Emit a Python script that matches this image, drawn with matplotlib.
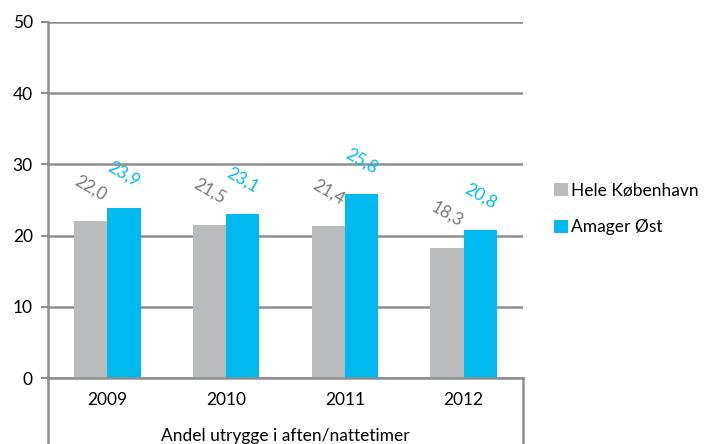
import matplotlib
matplotlib.use("Agg")
import matplotlib.pyplot as plt
import numpy as np

categories = ["2009", "2010", "2011", "2012"]
hele_kbh = [22.0, 21.5, 21.4, 18.3]
amager_ost = [23.9, 23.1, 25.8, 20.8]
series_names = ["Hele København", "Amager Øst"]
xlabel = "Andel utrygge i aften/nattetimer"
yticks = [0, 10, 20, 30, 40, 50]

plt.rcParams['font.family'] = ['Lato', 'DejaVu Sans']

grey = "#B9BBBC"
cyan = "#00B9EF"
grid_c = "#8E8E8E"

fig = plt.figure(figsize=(7.07, 4.44), dpi=100)
ax = fig.add_axes([48/707, 66/444, 475/707, 356/444])

x = np.arange(len(categories))
w = 0.28
b1 = ax.bar(x - w/2, hele_kbh, w, color=grey, label=series_names[0], zorder=3)
b2 = ax.bar(x + w/2, amager_ost, w, color=cyan, label=series_names[1], zorder=3)

for xi, v in zip(x - w/2, hele_kbh):
    ax.annotate(f"{v:.1f}".replace(".", ","), (xi, v), xytext=(0, 24),
                textcoords="offset points", ha="center", va="center",
                rotation=-30, color="#777777", fontsize=12.5)
for xi, v in zip(x + w/2, amager_ost):
    ax.annotate(f"{v:.1f}".replace(".", ","), (xi, v), xytext=(0, 24),
                textcoords="offset points", ha="center", va="center",
                rotation=-30, color=cyan, fontsize=12.5)

ax.set_xlim(-0.5, len(categories) - 0.5)
ax.set_ylim(0, 50)
ax.set_yticks(yticks)
ax.set_yticklabels([str(t) for t in yticks], fontsize=12.5)
ax.set_xticks(x)
ax.set_xticklabels(categories, fontsize=12.5)
ax.tick_params(axis='x', length=0, pad=10)
ax.tick_params(axis='y', length=5, width=1.5, color=grid_c, pad=6)
ax.yaxis.grid(True, color=grid_c, linewidth=1.8, zorder=0)
ax.set_axisbelow(True)
for s in ["top", "right", "bottom"]:
    ax.spines[s].set_visible(False)
ax.spines["left"].set_color(grid_c)
ax.spines["left"].set_linewidth(1.8)

# axis title
fig.text(285/707, 1 - 436/444, xlabel, ha="center", va="center", fontsize=12.5)

# category frame lines extending below the axis
fig.add_artist(plt.Line2D([48/707, 48/707], [0, 66/444], color=grid_c, linewidth=1.8))
fig.add_artist(plt.Line2D([523/707, 523/707], [0, 66/444], color=grid_c, linewidth=1.8))
fig.add_artist(plt.Line2D([48/707, 523/707], [66/444, 66/444], color=grid_c, linewidth=1.8))

leg = fig.legend(handles=[b1, b2], loc="center left", bbox_to_anchor=(538/707, 1 - 209/444),
                 frameon=False, fontsize=12.5, handlelength=0.8, handleheight=0.8,
                 handletextpad=0.2, labelspacing=1.2)

fig.savefig("out.png", dpi=100)
